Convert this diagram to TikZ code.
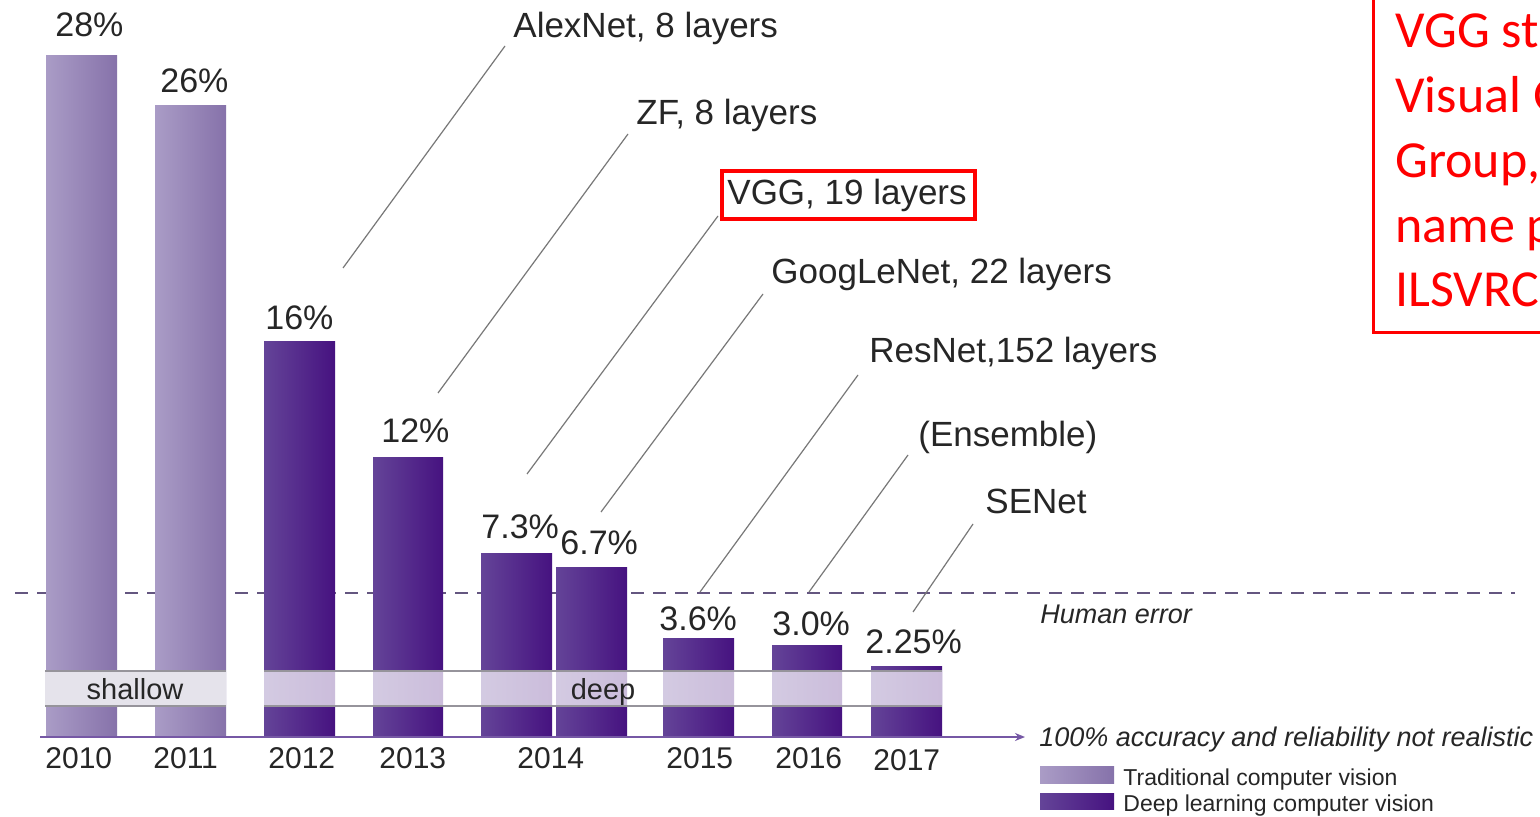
\documentclass[tikz,border=0pt]{standalone}
\usepackage{fontspec}
\setmainfont{Liberation Sans}
\newfontfamily\calib{Carlito}
\usetikzlibrary{arrows.meta}
\definecolor{tradL}{RGB}{170,156,198}
\definecolor{tradR}{RGB}{134,114,170}
\definecolor{deepL}{RGB}{100,68,152}
\definecolor{deepR}{RGB}{70,18,128}
\definecolor{leadc}{RGB}{120,120,120}
\definecolor{humc}{RGB}{100,86,128}
\definecolor{axisc}{RGB}{118,88,165}
\definecolor{txtc}{RGB}{38,38,38}
\definecolor{bandline}{RGB}{150,148,155}
\definecolor{bandgray}{RGB}{229,227,235}
\definecolor{redc}{RGB}{255,0,0}
\begin{document}
\begin{tikzpicture}[x=0.5pt,y=-0.5pt,
  tradbar/.style={left color=tradL, right color=tradR, draw=none},
  deepbar/.style={left color=deepL, right color=deepR, draw=none},
  pct/.style={anchor=base west, inner sep=0pt, text=txtc, font=\fontsize{17}{20}\selectfont},
  yr/.style={anchor=base west, inner sep=0pt, text=txtc, font=\fontsize{15}{18}\selectfont},
  lbl/.style={anchor=base west, inner sep=0pt, text=txtc, font=\fontsize{17.5}{21}\selectfont},
  bandtxt/.style={anchor=base, inner sep=0pt, text=txtc, font=\fontsize{14.5}{17}\selectfont},
  legtxt/.style={anchor=base west, inner sep=0pt, text=txtc, font=\fontsize{11.5}{14}\selectfont},
  itxt/.style={anchor=base west, inner sep=0pt, text=txtc, font=\fontsize{13.5}{16}\selectfont\itshape},
  redtxt/.style={anchor=base west, inner sep=0pt, text=redc, font=\calib\fontsize{26}{31}\selectfont},
  leader/.style={draw=leadc, line width=0.6pt},
  bandedge/.style={draw=bandline, line width=1.3pt}]
\useasboundingbox (0,0) rectangle (1540,817);
\clip (0,0) rectangle (1540,817);
\fill[white] (0,0) rectangle (1540,817);

% human error dashed line
\coordinate (he1) at (15,593);
\coordinate (he2) at (1515,593);
\draw[humc, line width=1.2pt, dash pattern=on 6.5pt off 4.5pt] (he1) -- (he2);

% bars
\fill[tradbar] (46,56) rectangle (117,737);
\fill[tradbar] (155,106) rectangle (226,737);
\fill[deepbar] (264,342) rectangle (335,737);
\fill[deepbar] (373,458) rectangle (443,737);
\fill[deepbar] (481,553) rectangle (552,737);
\fill[deepbar] (556,567) rectangle (627,737);
\fill[deepbar] (663,638) rectangle (734,737);
\fill[deepbar] (772,645) rectangle (842,737);
\fill[deepbar] (871,666) rectangle (942,737);

% bands
\fill[bandgray] (45,671) rectangle (226,706);
\draw[bandedge] (45,671) -- (226,671) (45,706) -- (226,706);
\fill[white, opacity=0.72] (264,671) rectangle (942,706);
\draw[bandedge] (264,671) -- (942,671) (264,706) -- (942,706);
\node[bandtxt] (shallow) at (135,699) {shallow};
\node[bandtxt] (deep) at (603,699) {deep};

% axis
\coordinate (ax1) at (40,737);
\coordinate (ax2) at (1025,737);
\draw[axisc, line width=0.9pt, -{Stealth[length=5pt,width=4pt]}] (ax1) -- (ax2);

% percentages
\node[pct] (p10) at (55,37) {28\%};
\node[pct] (p11) at (160,93) {26\%};
\node[pct] (p12) at (265,330) {16\%};
\node[pct] (p13) at (381,443) {12\%};
\node[pct] (p14a) at (481,538) {7.3\%};
\node[pct] (p14b) at (560,554) {6.7\%};
\node[pct] (p15) at (659,630) {3.6\%};
\node[pct] (p16) at (772,635) {3.0\%};
\node[pct] (p17) at (865,653) {2.25\%};

% years
\node[yr] (y10) at (45,768) {2010};
\node[yr] (y11) at (153,768) {2011};
\node[yr] (y12) at (268,768) {2012};
\node[yr] (y13) at (379,768) {2013};
\node[yr] (y14) at (517,768) {2014};
\node[yr] (y15) at (666,768) {2015};
\node[yr] (y16) at (775,768) {2016};
\node[yr] (y17) at (873,770) {2017};

% network labels
\node[lbl] (alex) at (513,38) {AlexNet, 8 layers};
\node[lbl] (zf) at (636,125) {ZF, 8 layers};
\node[lbl] (vgg) at (727,205) {VGG, 19 layers};
\node[lbl] (goog) at (771,284) {GoogLeNet, 22 layers};
\node[lbl] (res) at (869,363) {ResNet,152 layers};
\node[lbl] (ens) at (918,446) {(Ensemble)};
\node[lbl] (se) at (985,513) {SENet};
\draw[redc, line width=1.6pt] (722,171) rectangle (975,219);

% leader lines
\coordinate (a1) at (343,268); \coordinate (a2) at (505,46);
\coordinate (z1) at (438,393); \coordinate (z2) at (628,134);
\coordinate (v1) at (527,474); \coordinate (v2) at (718,216);
\coordinate (g1) at (601,512); \coordinate (g2) at (763,294);
\coordinate (r1) at (700,592); \coordinate (r2) at (858,375);
\coordinate (e1) at (809,592); \coordinate (e2) at (908,455);
\coordinate (s1) at (913,612); \coordinate (s2) at (973,524);
\draw[leader] (a1) -- (a2);
\draw[leader] (z1) -- (z2);
\draw[leader] (v1) -- (v2);
\draw[leader] (g1) -- (g2);
\draw[leader] (r1) -- (r2);
\draw[leader] (e1) -- (e2);
\draw[leader] (s1) -- (s2);

% right side texts
\node[itxt] (human) at (1040,623) {Human error};
\node[itxt] (acc) at (1039,746) {100\% accuracy and reliability not realistic};
\fill[left color=tradL, right color=tradR] (1040,766) rectangle (1114,783);
\fill[left color=deepL, right color=deepR] (1040,793) rectangle (1114,809);
\node[legtxt] (lt) at (1123,785) {Traditional computer vision};
\node[legtxt] (ld) at (1123,811) {Deep learning computer vision};

% red annotation box (cut off at the right edge, as in the reference)
\draw[redc, line width=1.5pt] (1373,-10) rectangle (1600,333);
\node[redtxt] (r1t) at (1395,48) {VGG st};
\node[redtxt] (r2t) at (1395,113) {Visual G};
\node[redtxt] (r3t) at (1395,178) {Group,};
\node[redtxt] (r4t) at (1395,243) {name p};
\node[redtxt] (r5t) at (1395,307) {ILSVRC};
\end{tikzpicture}
\end{document}
